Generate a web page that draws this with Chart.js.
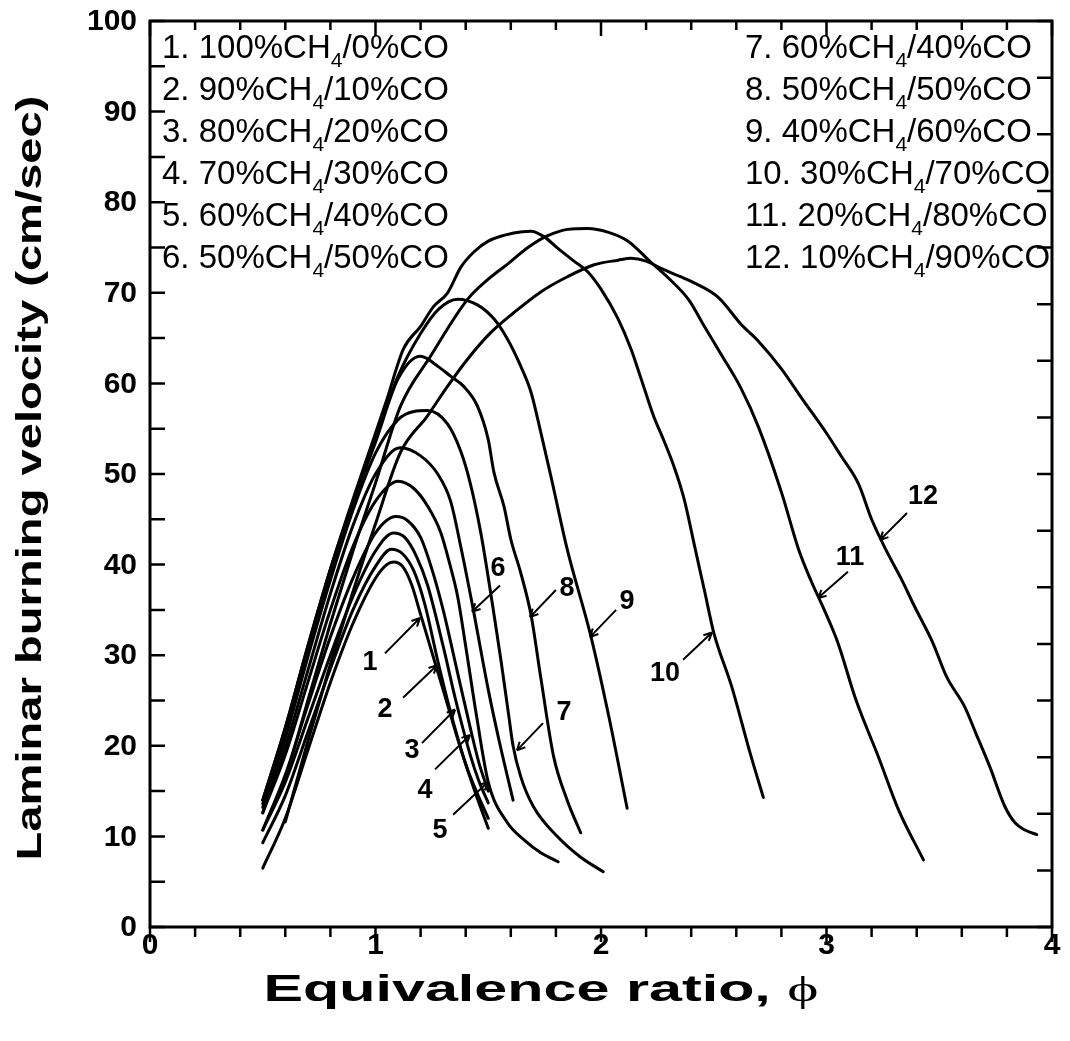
<!DOCTYPE html>
<html>
<head>
<meta charset="utf-8">
<script src="https://cdn.jsdelivr.net/npm/chart.js@4.4.1/dist/chart.umd.min.js"></script>
<style>
html,body{margin:0;padding:0;background:#fff;}
#wrap{width:1070px;height:1041px;}
</style>
</head>
<body>
<div id="wrap"><canvas id="graficoVelocidade" width="1070" height="1041"></canvas></div>
<script>

// =============================
// DADOS
// =============================

const ch4List = [100,90,80,70,60,50,60,50,40,30,20,10];
const coList  = [0,10,20,30,40,50,40,50,60,70,80,90];

const xTicks = [0,1,2,3,4];
const yTicks = [0,10,20,30,40,50,60,70,80,90,100];

const phi1 = [0.5,0.6,0.7,0.8,0.9,1.0,1.05,1.08,1.12,1.16,1.2,1.26,1.32,1.38,1.44,1.5];
const su1  = [6.5,12,19.5,27,33.5,38.5,40,40.3,39.8,37.8,34.5,29.5,24.5,19.5,15,10.9];

const phi2 = [0.5,0.6,0.7,0.8,0.9,1.0,1.07,1.12,1.17,1.22,1.275,1.33,1.4,1.45,1.5];
const su2  = [9.3,14.5,21.5,28.5,35,39.8,41.7,41.2,39.3,35.5,29.5,24,18,14.8,12];

const phi3 = [0.5,0.6,0.7,0.8,0.9,1.0,1.08,1.13,1.18,1.23,1.3,1.356,1.42,1.46,1.5];
const su3  = [10.7,16,23,30,36.5,41.5,43.5,43,41,37.8,31,25,19,16,13.7];

const phi4 = [0.5,0.6,0.7,0.8,0.9,1.0,1.09,1.14,1.2,1.25,1.3,1.36,1.42,1.46,1.5];
const su4  = [10.7,16.8,24.5,32,38.5,43.5,45.3,44.9,43,39.5,35,28.5,22,18,15];

const phi5 = [0.5,0.6,0.7,0.8,0.9,1.0,1.1,1.17,1.23,1.29,1.33,1.364,1.4,1.45,1.5,1.585,1.66,1.733,1.81];
const su5  = [12.6,19,27,35,42,47,49.2,48.4,46.5,43.5,40,36.5,31,23,16,11.5,9.6,8.2,7.2];

const phi6 = [0.5,0.6,0.7,0.8,0.9,1.0,1.11,1.2,1.276,1.333,1.378,1.43,1.5,1.547,1.61];
const su6  = [12.6,19.8,28.3,36.8,44.3,50,52.9,52,50,47,42,35.5,26.2,20.7,14];

const phi7 = [0.5,0.6,0.7,0.8,0.9,1.0,1.1,1.17,1.23,1.32,1.378,1.42,1.467,1.52,1.556,1.59,1.61,1.644,1.7,1.81,1.91,2.01];
const su7  = [13.2,20.8,29.8,38.3,46,52.3,56,56.9,57,55.5,52.5,49,43.5,35.4,29.5,23.5,20,16.6,13.3,9.9,7.7,6.1];

const phi8 = [0.5,0.6,0.7,0.8,0.9,1.0,1.1,1.2,1.276,1.333,1.39,1.452,1.5,1.525,1.57,1.6,1.644,1.69,1.733,1.79,1.85,1.91];
const su8  = [13.6,21.5,30.5,39,46.7,53.5,60.5,63,61.9,60.8,59.7,57.5,53.8,50.2,46.4,42.8,39.1,34.4,27.5,18.8,14,10.4];

const phi9 = [0.5,0.6,0.7,0.8,0.9,1.0,1.1,1.2,1.28,1.364,1.45,1.526,1.585,1.644,1.69,1.72,1.78,1.85,1.956,2.035,2.116];
const su9  = [14,22,31,39.5,47,54,60.8,65.5,68.2,69.3,68.7,67.1,64.9,61.9,59,56,49.5,41.7,32,23.2,13.1];

const phi10 = [0.5,0.6,0.7,0.8,0.9,1.0,1.05,1.124,1.2,1.258,1.32,1.378,1.436,1.5,1.613,1.69,1.747,1.809,1.88,1.942,2.0,2.074,2.133,2.178,2.236,2.267,2.324,2.369,2.418,2.46,2.5,2.58,2.66,2.72];
const su10  = [14,22,31,39.5,47.2,54.5,58.2,63.8,66.3,68.5,70,72.8,74.5,75.7,76.6,76.8,76.2,74.9,73.5,72.3,70.4,67.2,63.8,60.5,56.2,54.4,50.8,47.2,41.7,37,32.5,26.5,19.3,14.3];

const phi11 = [0.6,0.7,0.8,0.9,1.0,1.111,1.244,1.409,1.5,1.587,1.676,1.764,1.853,1.942,2.03,2.12,2.22,2.3,2.39,2.458,2.533,2.62,2.698,2.8,2.876,2.93,2.99,3.05,3.13,3.23,3.32,3.43];
const su11  = [16.2,25,33.5,41.5,49,57.5,63,69.3,71.5,73.2,75,76.3,77,77.1,76.7,75.7,73.4,71.6,69.2,66.3,63.2,59.5,55.2,48,41.7,38.3,35,31.4,25.1,18.8,12.9,7.4];

const phi12 = [0.6,0.7,0.8,0.9,1.0,1.111,1.23,1.32,1.409,1.511,1.613,1.733,1.853,1.97,2.076,2.133,2.2,2.267,2.35,2.413,2.52,2.622,2.7,2.8,2.889,3.0,3.067,3.142,3.2,3.262,3.33,3.39,3.471,3.533,3.613,3.662,3.724,3.791,3.836,3.88,3.933];
const su12  = [11.6,20.5,29,37,44.5,52.4,56.4,59.7,62.7,65.6,67.8,70.1,71.8,73.1,73.6,73.8,73.5,72.7,71.8,71.1,69.5,66.5,64.6,61.6,58.4,54.5,51.9,48.9,45,41.7,38.5,35.4,31.4,27.6,24.3,21.4,17.7,13.3,11.5,10.7,10.2];

const curvasPhi = [phi1,phi2,phi3,phi4,phi5,phi6,phi7,phi8,phi9,phi10,phi11,phi12];
const curvasSu  = [su1,su2,su3,su4,su5,su6,su7,su8,su9,su10,su11,su12];

// setas numeradas: texto em (phi, Su), seta de -> ate (unidades dos eixos)
const setas = [
{ t:"1",  lx:0.976, ly:29.2, x0:1.042, y0:30.2, x1:1.197, y1:34.1 },
{ t:"2",  lx:1.042, ly:24.0, x0:1.122, y0:25.3, x1:1.273, y1:28.9 },
{ t:"3",  lx:1.162, ly:19.5, x0:1.206, y0:20.3, x1:1.353, y1:24.0 },
{ t:"4",  lx:1.220, ly:15.1, x0:1.264, y0:17.4, x1:1.419, y1:21.2 },
{ t:"5",  lx:1.286, ly:10.7, x0:1.344, y0:12.4, x1:1.499, y1:16.0 },
{ t:"6",  lx:1.543, ly:39.6, x0:1.552, y0:37.7, x1:1.428, y1:34.8 },
{ t:"7",  lx:1.836, ly:23.7, x0:1.743, y0:22.5, x1:1.627, y1:19.5 },
{ t:"8",  lx:1.849, ly:37.4, x0:1.800, y0:37.2, x1:1.685, y1:34.2 },
{ t:"9",  lx:2.115, ly:35.9, x0:2.067, y0:35.0, x1:1.951, y1:32.0 },
{ t:"10", lx:2.284, ly:28.0, x0:2.364, y0:29.5, x1:2.492, y1:32.5 },
{ t:"11", lx:3.104, ly:40.8, x0:3.095, y0:39.2, x1:2.962, y1:36.3 },
{ t:"12", lx:3.428, ly:47.5, x0:3.357, y0:45.7, x1:3.237, y1:42.7 }
];

const FONTE = "'Liberation Sans', Arial, sans-serif";


// =============================
// PLUGIN: moldura, ticks, textos
// =============================

function escreverMistura(ctx, x, y, n, ch4, co){
ctx.font = "33px " + FONTE;
ctx.textBaseline = "middle";
ctx.textAlign = "left";
let a = n + ". " + ch4 + "%CH";
ctx.fillText(a, x, y);
let w = ctx.measureText(a).width;
ctx.font = "21px " + FONTE;
ctx.fillText("4", x + w, y + 12);
let w2 = ctx.measureText("4").width;
ctx.font = "33px " + FONTE;
ctx.fillText("/" + co + "%CO", x + w + w2, y);
}

const moldura = {
id: "moldura",
afterDraw(chart){

const ctx = chart.ctx;
const xs = chart.scales.x;
const ys = chart.scales.y;
const L = chart.chartArea.left, R = chart.chartArea.right;
const T = chart.chartArea.top, B = chart.chartArea.bottom;

ctx.save();
ctx.strokeStyle = "#000";
ctx.fillStyle = "#000";
ctx.lineWidth = 3;
ctx.strokeRect(L, T, R - L, B - T);

ctx.lineWidth = 2.5;
ctx.beginPath();
for(let k = 0; k <= 20; k++){
const y = ys.getPixelForValue(k * 5);
ctx.moveTo(L, y); ctx.lineTo(L + 15, y);
}
for(let k = 0; k <= 16; k++){
const y = ys.getPixelForValue(k * 6.25);
ctx.moveTo(R, y); ctx.lineTo(R - 15, y);
}
for(let k = 0; k <= 20; k++){
const x = xs.getPixelForValue(k * 0.2);
const maior = k % 5 === 0;
ctx.moveTo(x, B); ctx.lineTo(x, B + (maior ? 15 : 10));
ctx.moveTo(x, T); ctx.lineTo(x, T + (maior ? 15 : 9));
}
ctx.stroke();

// rotulos dos ticks
ctx.font = "bold 30px " + FONTE;
ctx.textBaseline = "middle";
ctx.textAlign = "right";
yTicks.forEach(v=>{
ctx.fillText(String(v), L - 13, ys.getPixelForValue(v) + 1);
});
ctx.textAlign = "center";
xTicks.forEach(v=>{
ctx.fillText(String(v), xs.getPixelForValue(v), B + 19);
});

// legenda em duas colunas
for(let i = 0; i < 12; i++){
const col = i < 6 ? 0 : 1;
const lin = i % 6;
const x = col === 0 ? L + 12 : 745;
const y = T + 28 + lin * 42;
escreverMistura(ctx, x, y, i + 1, ch4List[i], coList[i]);
}

// setas numeradas
ctx.lineWidth = 2;
ctx.font = "bold 27px " + FONTE;
ctx.textAlign = "center";
ctx.textBaseline = "middle";
setas.forEach(s=>{
const px0 = xs.getPixelForValue(s.x0), py0 = ys.getPixelForValue(s.y0);
const px1 = xs.getPixelForValue(s.x1), py1 = ys.getPixelForValue(s.y1);
const ang = Math.atan2(py1 - py0, px1 - px0);
ctx.beginPath();
ctx.moveTo(px0, py0); ctx.lineTo(px1, py1);
ctx.moveTo(px1, py1); ctx.lineTo(px1 - 9*Math.cos(ang - 0.45), py1 - 9*Math.sin(ang - 0.45));
ctx.moveTo(px1, py1); ctx.lineTo(px1 - 9*Math.cos(ang + 0.45), py1 - 9*Math.sin(ang + 0.45));
ctx.stroke();
ctx.fillText(s.t, xs.getPixelForValue(s.lx), ys.getPixelForValue(s.ly));
});

// titulo eixo x
const t1 = "Equivalence ratio, ";
ctx.font = "bold 36px " + FONTE;
const w1 = ctx.measureText(t1).width;
ctx.font = "36px 'Liberation Serif', 'DejaVu Serif', serif";
const w2 = ctx.measureText("\u03D5").width;
const esticaX = 555 / (w1 + w2);
ctx.save();
ctx.translate(541, 991);
ctx.scale(esticaX, 1);
ctx.textAlign = "left";
ctx.font = "bold 36px " + FONTE;
ctx.fillText(t1, -(w1 + w2) / 2, 0);
ctx.font = "36px 'Liberation Serif', 'DejaVu Serif', serif";
ctx.fillText("\u03D5", -(w1 + w2) / 2 + w1, 1);
ctx.restore();

// titulo eixo y
const t2 = "Laminar burning velocity (cm/sec)";
ctx.font = "bold 35px " + FONTE;
const w3 = ctx.measureText(t2).width;
ctx.save();
ctx.translate(31, 478);
ctx.rotate(-Math.PI / 2);
ctx.scale(765 / w3, 1);
ctx.textAlign = "center";
ctx.fillText(t2, 0, 0);
ctx.restore();

ctx.restore();
}
};


// =============================
// GRAFICO
// =============================

const datasets = curvasPhi.map((xs, i)=>({
label: "Curva " + (i + 1),
data: xs.map((x, j)=>({ x: x, y: curvasSu[i][j] })),
showLine: true,
borderColor: "#000",
borderWidth: 3,
borderCapStyle: "round",
pointRadius: 0,
fill: false,
cubicInterpolationMode: "monotone"
}));

const ctx = document.getElementById("graficoVelocidade").getContext("2d");

new Chart(ctx, {
type: "scatter",
data: { datasets: datasets },
options: {
responsive: false,
animation: false,
layout: { padding: { top: 21, right: 18, left: 0, bottom: 0 } },
plugins: { legend: { display: false }, tooltip: { enabled: false } },
scales: {
x: {
type: "linear", min: 0, max: 4,
afterFit: (s)=>{ s.height = 114; },
grid: { display: false, drawTicks: false },
border: { display: false },
ticks: { display: false }
},
y: {
type: "linear", min: 0, max: 100,
afterFit: (s)=>{ s.width = 150; },
grid: { display: false, drawTicks: false },
border: { display: false },
ticks: { display: false }
}
}
},
plugins: [moldura]
});

</script>
</body>
</html>
